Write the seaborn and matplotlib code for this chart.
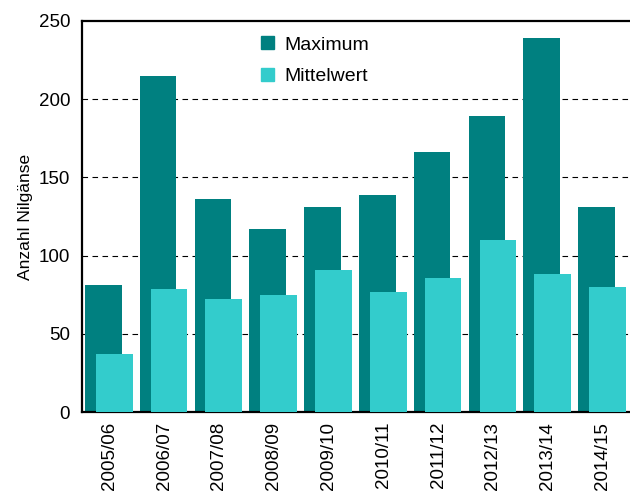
import numpy as np
import pandas as pd
import matplotlib
matplotlib.use('Agg')
import matplotlib.pyplot as plt
from matplotlib.patches import Patch
import seaborn as sns

# data
seasons = ['2005/06', '2006/07', '2007/08', '2008/09', '2009/10',
           '2010/11', '2011/12', '2012/13', '2013/14', '2014/15']
maximum = [81, 215, 136, 117, 131, 139, 166, 189, 239, 131]
mittelwert = [37, 79, 72, 75, 91, 77, 86, 110, 88, 80]

col_max = '#008080'
col_mean = '#33CCCC'

sns.set_style('white')
plt.rcParams['font.family'] = ['Liberation Sans', 'DejaVu Sans']
plt.rcParams['text.color'] = 'black'
plt.rcParams['axes.labelcolor'] = 'black'
plt.rcParams['xtick.color'] = 'black'
plt.rcParams['ytick.color'] = 'black'

df = pd.DataFrame({'season': seasons, 'Maximum': maximum, 'Mittelwert': mittelwert})

fig = plt.figure(figsize=(6.3, 4.96), dpi=100)
ax = fig.add_axes([0.130, 0.169, 0.870, 0.789])

bar_w = 0.67
sns.barplot(data=df, x='season', y='Maximum', order=seasons, color=col_max,
            width=bar_w, saturation=1, ax=ax, zorder=2)
n_max = len(ax.patches)
sns.barplot(data=df, x='season', y='Mittelwert', order=seasons, color=col_mean,
            width=bar_w, saturation=1, ax=ax, zorder=3)

# overlap: maximum shifted left, mean shifted right
for i, p in enumerate(ax.patches):
    shift = -0.11 if i < n_max else 0.09
    p.set_x(p.get_x() + shift)
    p.set_edgecolor('none')

ax.set_xlim(-0.5, len(seasons) - 0.5)
ax.set_ylim(0, 250)
ax.set_yticks([0, 50, 100, 150, 200, 250])
ax.set_xticks(np.arange(len(seasons)))
ax.set_xticklabels(seasons, rotation=90)
ax.set_xticks(np.arange(len(seasons) + 1) - 0.5, minor=True)
ax.tick_params(axis='x', which='major', length=0, pad=7, labelsize=13.5)
ax.tick_params(axis='x', which='minor', length=5, width=1.5, direction='out')
ax.tick_params(axis='y', length=5, width=1.2, direction='out', labelsize=13.5)
ax.set_xlabel('')
ax.set_ylabel('Anzahl Nilgänse', fontsize=12.5, labelpad=4)

for y in [50, 100, 150, 200]:
    ax.axhline(y, color='black', lw=0.8, ls=(0, (5, 4)), zorder=1)

for s in ['left', 'bottom', 'top']:
    ax.spines[s].set_visible(True)
    ax.spines[s].set_color('black')
    ax.spines[s].set_linewidth(1.6)
ax.spines['right'].set_visible(False)

handles = [Patch(color=col_max, label='Maximum'), Patch(color=col_mean, label='Mittelwert')]
ax.legend(handles=handles, loc='upper left', bbox_to_anchor=(0.295, 1.005),
          frameon=False, fontsize=14, handlelength=0.65, handleheight=0.65,
          handletextpad=0.55, labelspacing=0.72)

plt.savefig('out.png', dpi=100)
plt.close()
